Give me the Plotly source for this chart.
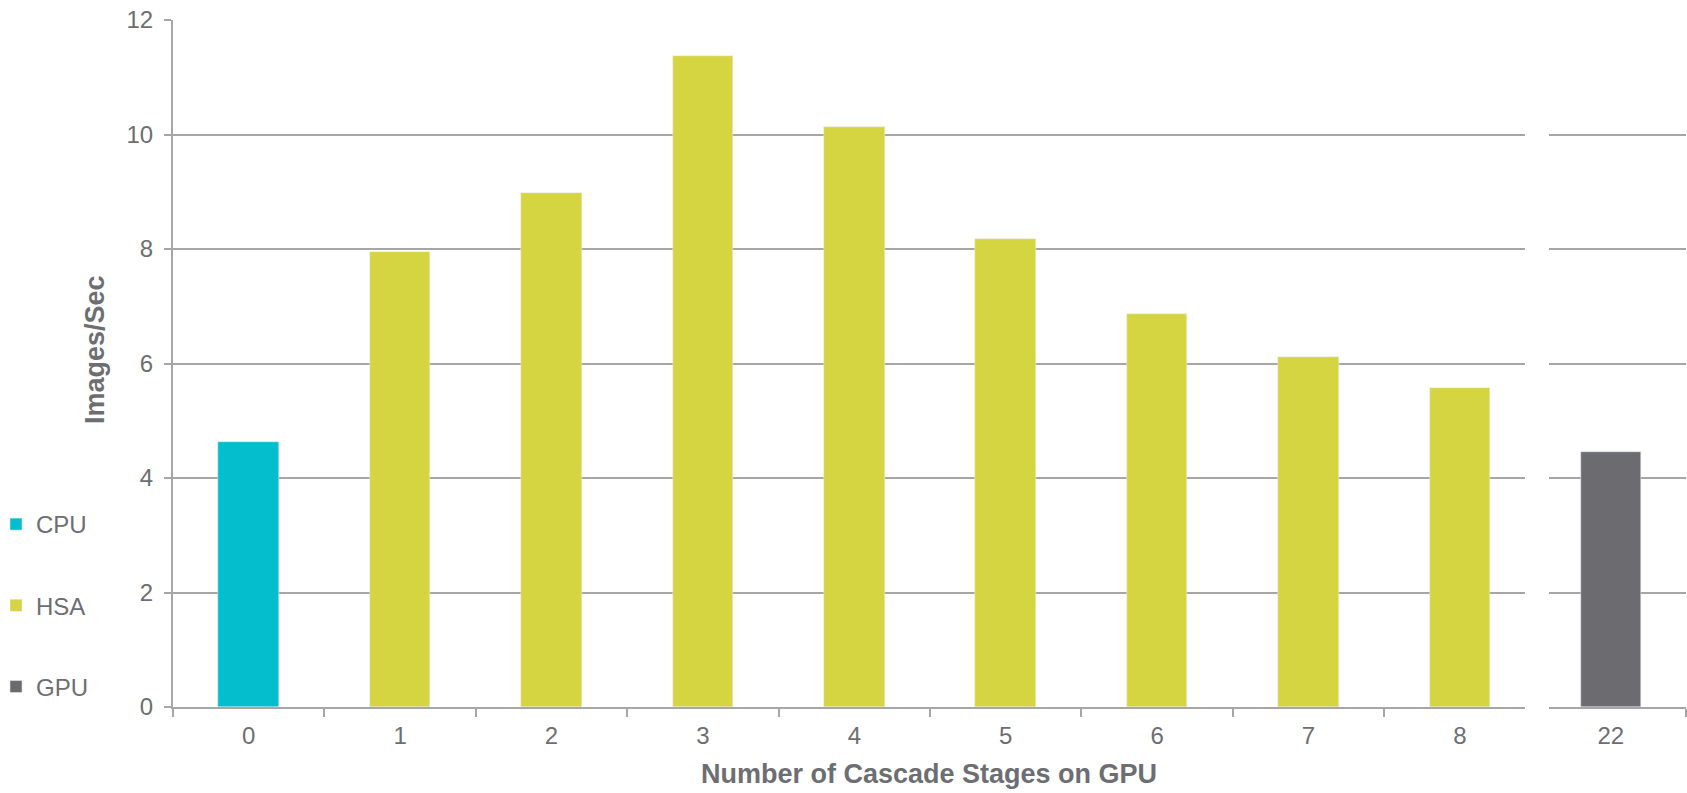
import plotly.graph_objects as go

# Throughput (images per second) by number of cascade stages offloaded to the GPU
cpu_stages = ["0"]
cpu_values = [4.63]

hsa_stages = ["1", "2", "3", "4", "5", "6", "7", "8"]
hsa_values = [7.95, 8.97, 11.37, 10.13, 8.17, 6.86, 6.11, 5.58]

gpu_stages = ["22"]
gpu_values = [4.45]

y_ticks = [0, 2, 4, 6, 8, 10, 12]

CPU_COLOR = "#05BECD"
HSA_COLOR = "#D5D542"
GPU_COLOR = "#6C6B70"
GRID = "#A6A6A6"
TEXT = "#6D6E71"
FONT = "Liberation Sans, Arial, sans-serif"

W, H = 1687, 793
TOP, BOTTOM = 20, 707          # plot-area pixel rows
PH = BOTTOM - TOP
BAR_W = 0.40
TICK_SIZE = 24
TITLE_SIZE = 27


def py(pix):
    """pixel row -> paper y"""
    return (BOTTOM - pix) / PH


fig = go.Figure()
fig.add_trace(go.Bar(x=cpu_stages, y=cpu_values, name="CPU", marker_color=CPU_COLOR,
                     width=BAR_W, xaxis="x", yaxis="y", legendgroup="cpu"))
fig.add_trace(go.Bar(x=hsa_stages, y=hsa_values, name="HSA", marker_color=HSA_COLOR,
                     width=BAR_W, xaxis="x", yaxis="y", legendgroup="hsa"))
fig.add_trace(go.Bar(x=gpu_stages, y=gpu_values, name="GPU", marker_color=GPU_COLOR,
                     width=BAR_W, xaxis="x2", yaxis="y2", legendgroup="gpu"))

left_cats = cpu_stages + hsa_stages
axis_common = dict(
    type="category",
    tickson="boundaries",
    ticks="outside",
    ticklen=8,
    tickwidth=1.5,
    tickcolor=GRID,
    showline=True,
    linecolor=GRID,
    linewidth=2,
    showgrid=False,
    ticklabelstandoff=6,
    tickfont=dict(family=FONT, size=TICK_SIZE, color=TEXT),
    fixedrange=True,
    automargin=False,
)

fig.update_layout(
    width=W,
    height=H,
    margin=dict(l=0, r=0, t=TOP, b=H - BOTTOM, autoexpand=False),
    paper_bgcolor="white",
    plot_bgcolor="white",
    bargap=0,
    showlegend=True,
    xaxis=dict(domain=[173 / W, 1525 / W], categoryorder="array",
               categoryarray=left_cats, range=[-0.5, 8.43], **axis_common),
    xaxis2=dict(domain=[1549 / W, 1686 / W], categoryorder="array",
                categoryarray=gpu_stages, range=[-0.41, 0.5], anchor="y2",
                **axis_common),
    yaxis=dict(
        range=[0, 12],
        tickvals=y_ticks,
        ticks="outside",
        ticklen=7,
        tickwidth=1.5,
        tickcolor=GRID,
        showline=True,
        linecolor=GRID,
        linewidth=2,
        showgrid=True,
        gridcolor=GRID,
        gridwidth=2,
        zeroline=False,
        ticklabelstandoff=6,
        tickfont=dict(family=FONT, size=TICK_SIZE, color=TEXT),
        fixedrange=True,
        automargin=False,
    ),
    yaxis2=dict(
        matches="y",
        range=[0, 12],
        anchor="x2",
        tickvals=y_ticks,
        showticklabels=False,
        ticks="",
        showline=False,
        showgrid=True,
        gridcolor=GRID,
        gridwidth=2,
        zeroline=False,
        fixedrange=True,
    ),
    legend=dict(
        x=-4 / W,
        xanchor="left",
        y=py(502),
        yanchor="top",
        xref="paper",
        yref="paper",
        orientation="v",
        traceorder="grouped",
        tracegroupgap=47,
        itemwidth=30,
        font=dict(family=FONT, size=TICK_SIZE, color=TEXT),
        bgcolor="rgba(0,0,0,0)",
    ),
    annotations=[
        dict(text="<b>Images/Sec</b>", xref="paper", yref="paper",
             x=95 / W, y=py(350), xanchor="center", yanchor="middle",
             textangle=-90, showarrow=False,
             font=dict(family=FONT, size=TITLE_SIZE, color=TEXT)),
        dict(text="<b>Number of Cascade Stages on GPU</b>", xref="paper", yref="paper",
             x=929 / W, y=py(774), xanchor="center", yanchor="middle",
             showarrow=False,
             font=dict(family=FONT, size=TITLE_SIZE, color=TEXT)),
    ],
)

fig.write_html("out.html")
